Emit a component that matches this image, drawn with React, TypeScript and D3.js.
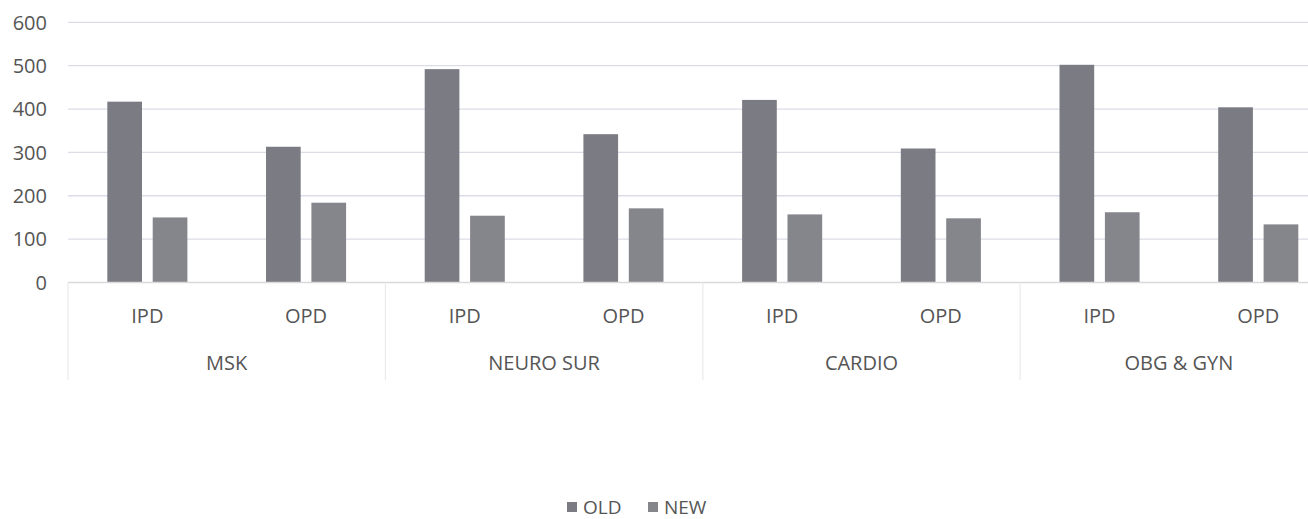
import React from "react";
import * as d3 from "d3";

const groups = ["MSK", "NEURO SUR", "CARDIO", "OBG & GYN"];
const subs = ["IPD", "OPD"];
const series = ["OLD", "NEW"];
// values in order: MSK IPD, MSK OPD, NEURO IPD, NEURO OPD, CARDIO IPD, CARDIO OPD, OBG IPD, OBG OPD
const oldValues = [417, 313, 492, 342, 421, 309, 502, 404];
const newValues = [150, 184, 154, 171, 157, 148, 162, 134];
const yTicks = [0, 100, 200, 300, 400, 500, 600];

const W = 1308;
const H = 519;
const FONT = "'Open Sans', 'Noto Sans', sans-serif";
const TEXT = "#555555";
const colors: Record<string, string> = { OLD: "#7b7b83", NEW: "#85858c" };

export default function App() {
  const left = 68;
  const right = 1337.6;
  const keys = groups.flatMap((g) => subs.map((s) => `${g}|${s}`));
  const x = d3.scaleBand<string>().domain(keys).range([left, right]).padding(0);
  const xg = d3.scaleBand<string>().domain(groups).range([left, right]).padding(0);
  const xi = d3
    .scaleBand<string>()
    .domain(series)
    .range([0, x.bandwidth()])
    .paddingInner(0.236)
    .paddingOuter(0.866);
  const y = d3.scaleLinear().domain([0, 600]).range([282.5, 22.3]);

  const rows = keys.map((k, i) => ({ key: k, OLD: oldValues[i], NEW: newValues[i] }));

  return (
    <svg
      width={W}
      height={H}
      style={{ position: "absolute", left: 0, top: 0, background: "#fff" }}
      fontFamily={FONT}
    >
      <rect x={0} y={0} width={W} height={H} fill="#fff" />
      {yTicks.map((t) => (
        <g key={t}>
          {t > 0 && (
            <line x1={left} x2={W} y1={y(t)} y2={y(t)} stroke="#dcdce8" strokeWidth={1.3} />
          )}
          <text
            x={47}
            y={y(t)}
            dy="0.36em"
            textAnchor="end"
            fontSize={20}
            fill={TEXT}
          >
            {t}
          </text>
        </g>
      ))}
      {rows.map((r) =>
        series.map((s) => {
          const v = (r as any)[s] as number;
          const bx = (x(r.key) as number) + (xi(s) as number);
          return (
            <rect
              key={r.key + s}
              x={bx}
              y={y(v)}
              width={xi.bandwidth()}
              height={y(0) - y(v)}
              fill={colors[s]}
            />
          );
        })
      )}
      <line x1={left} x2={W} y1={y(0)} y2={y(0)} stroke="#d9d9d9" strokeWidth={1.3} />
      {groups.map((g) => (
        <line
          key={"sep" + g}
          x1={xg(g) as number}
          x2={xg(g) as number}
          y1={y(0)}
          y2={380}
          stroke="#ececec"
          strokeWidth={1.3}
        />
      ))}
      {keys.map((k) => (
        <text
          key={"lbl" + k}
          x={(x(k) as number) + x.bandwidth() / 2}
          y={323}
          textAnchor="middle"
          fontSize={20}
          fill={TEXT}
        >
          {k.split("|")[1]}
        </text>
      ))}
      {groups.map((g) => (
        <text
          key={"g" + g}
          x={(xg(g) as number) + xg.bandwidth() / 2}
          y={370}
          textAnchor="middle"
          fontSize={20}
          fill={TEXT}
        >
          {g}
        </text>
      ))}
      {series.map((s, i) => {
        const lx = i === 0 ? 567 : 648;
        return (
          <g key={"leg" + s}>
            <rect x={lx} y={502} width={10} height={10} fill={colors[s]} />
            <text x={lx + 16} y={514} fontSize={19} fill={TEXT}>
              {s}
            </text>
          </g>
        );
      })}
    </svg>
  );
}
